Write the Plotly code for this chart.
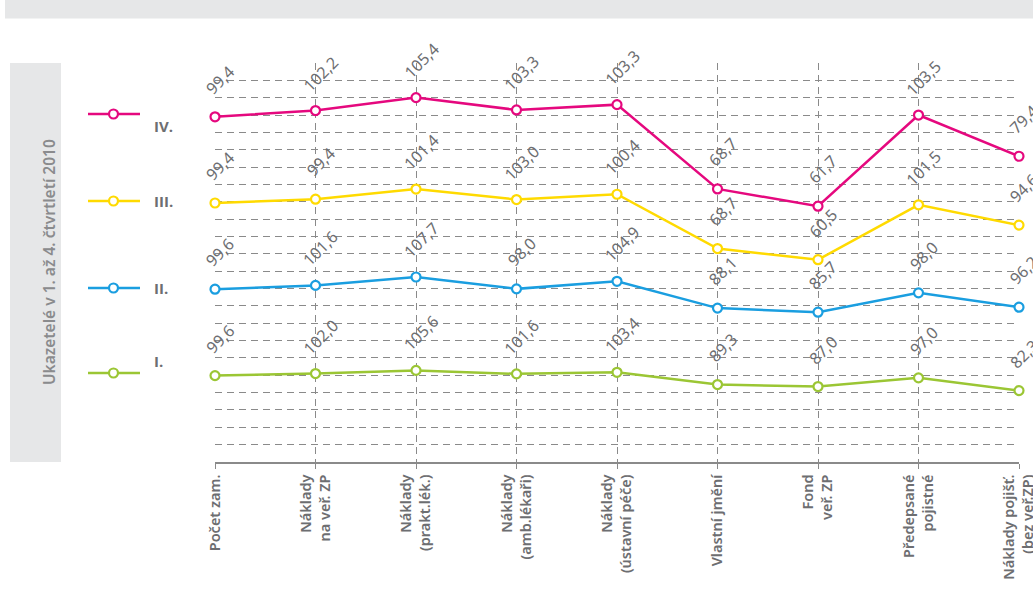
import numpy as np
import plotly.graph_objects as go

categories = ["Počet zam.", "Náklady<br>na veř. ZP", "Náklady<br>(prakt.lék.)", "Náklady<br>(amb.lékaři)",
              "Náklady<br>(ústavní péče)", "Vlastní jmění", "Fond<br>veř. ZP", "Předepsané<br>pojistné",
              "Náklady pojišť.<br>(bez veř.ZP)"]
q1 = [99.6, 102.0, 105.6, 101.6, 103.4, 89.3, 87.0, 97.0, 82.3]
q2 = [99.6, 101.6, 107.7, 98.0, 104.9, 88.1, 85.7, 98.0, 96.2]
q3 = [99.4, 99.4, 101.4, 103.0, 100.4, 68.7, 60.5, 101.5, 94.6]
q4 = [99.4, 102.2, 105.4, 103.3, 103.3, 68.7, 61.7, 103.5, 79.4]
series_names = ["I.", "II.", "III.", "IV."]
colors = ["#9bc634", "#1a9ee0", "#ffda00", "#e5087e"]
side_title = "Ukazetelé v 1. až 4. čtvrtletí 2010"

series = [q1, q2, q3, q4]
cum = np.cumsum(np.array(series), axis=0)
x = list(range(len(categories)))

W, H = 1033, 592
L, R, T, B = 215, 14, 63, 130
pw, ph = W - L - R, H - T - B
def px(xp):
    return (xp - L) / pw
def py(yp):
    return (H - B - yp) / ph

FONT = "Noto Sans"
fig = go.Figure()
gray = "#6d6e71"
annotations = []
for k in range(4):
    fig.add_trace(go.Scatter(
        x=x, y=cum[k], mode="lines+markers", name=series_names[k],
        line=dict(color=colors[k], width=2.5),
        marker=dict(size=9, color="white", line=dict(color=colors[k], width=2.2)),
        cliponaxis=False, showlegend=False))
    for i, v in enumerate(series[k]):
        annotations.append(dict(
            x=i, y=cum[k][i], xref="x", yref="y", text=f"{v:.1f}".replace(".", ","),
            showarrow=False, textangle=-45, xshift=5, yshift=37,
            font=dict(family=FONT, size=16, color=gray)))

shapes = []
shapes.append(dict(type="rect", xref="paper", yref="paper", x0=px(5), x1=px(1040), y0=py(18.5), y1=py(-5),
                   fillcolor="#e6e7e8", line=dict(width=0), layer="below"))
shapes.append(dict(type="rect", xref="paper", yref="paper", x0=px(10), x1=px(61), y0=py(462), y1=py(63),
                   fillcolor="#e6e7e8", line=dict(width=0), layer="below"))
annotations.append(dict(x=px(36), y=py(262), xref="paper", yref="paper", text=side_title, showarrow=False,
                        textangle=-90, font=dict(family=FONT, size=15.5, color="#8a8b8d", weight=600)))

leg_rows = [373, 288, 201, 114]
for k in range(4):
    yy = py(leg_rows[k])
    shapes.append(dict(type="line", xref="paper", yref="paper", x0=px(88), x1=px(140), y0=yy, y1=yy,
                       line=dict(color=colors[k], width=2.5)))
    shapes.append(dict(type="circle", xref="paper", yref="paper", xsizemode="pixel", ysizemode="pixel",
                       xanchor=px(113.5), yanchor=yy, x0=-4.5, x1=4.5, y0=-4.5, y1=4.5,
                       fillcolor="white", line=dict(color=colors[k], width=2.2)))
    annotations.append(dict(x=px(152), y=yy, xref="paper", yref="paper", text=series_names[k],
                            xanchor="left", showarrow=False,
                            font=dict(family="Open Sans", size=15, color=gray, weight=700)))

fig.update_layout(
    width=W, height=H, margin=dict(l=L, r=R, t=T, b=B, autoexpand=False),
    paper_bgcolor="white", plot_bgcolor="white",
    showlegend=False, shapes=shapes, annotations=annotations,
    xaxis=dict(range=[0, 8], tickvals=x, ticktext=categories, tickangle=-90,
               ticklabeloverflow="allow", automargin=False,
               showgrid=True, gridcolor="#8a8a8a", griddash="7px,5px", gridwidth=1,
               showline=True, linecolor="#8a8a8a", linewidth=1.5,
               ticks="outside", ticklen=5, tickcolor="#8a8a8a",
               tickfont=dict(family=FONT, size=14.5, color=gray, weight=600),
               zeroline=False, fixedrange=True),
    yaxis=dict(range=[0, 460], dtick=20, showticklabels=False, automargin=False,
               showgrid=True, gridcolor="#8a8a8a", griddash="7px,5px", gridwidth=1,
               zeroline=False, showline=False, fixedrange=True),
)
fig.write_html("out.html", config={"displayModeBar": False},
               post_script="document.body.style.margin='0';document.body.style.overflow='hidden';")
